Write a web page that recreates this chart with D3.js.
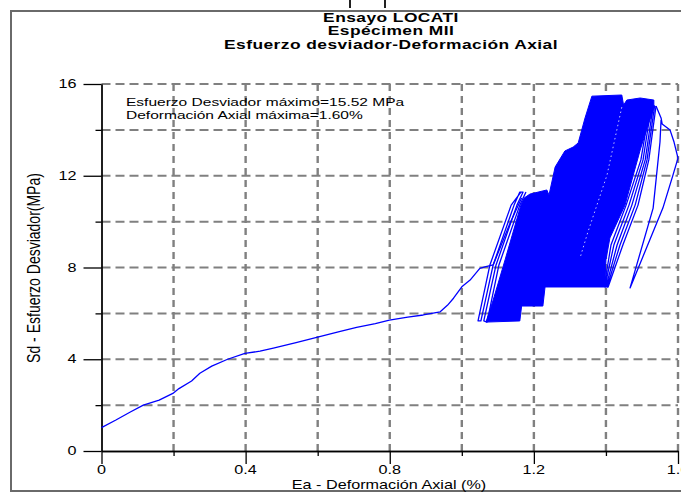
<!DOCTYPE html>
<html>
<head>
<meta charset="utf-8">
<script src="https://cdn.jsdelivr.net/npm/d3@7"></script>
<style>
  body { margin: 0; background: #fff; }
  svg { display: block; font-family: "Liberation Sans", Arial, sans-serif; }
</style>
</head>
<body>
<svg id="chart" width="681" height="493"></svg>
<script>
// ---- chart text ----
const titleLines = ["Ensayo LOCATI", "Espécimen MII", "Esfuerzo desviador-Deformación Axial"];
const xAxisTitle = "Ea - Deformación Axial (%)";
const yAxisTitle = "Sd - Esfuerzo Desviador(MPa)";

// ---- ticks ----
const xMajorTicks = [0, 0.4, 0.8, 1.2, 1.6];
const xTickLabels = ["0", "0.4", "0.8", "1.2", "1.6"];
const xMinorTicks = [0.2, 0.6, 1.0, 1.4];
const yMajorTicks = [0, 4, 8, 12, 16];
const yTickLabels = ["0", "4", "8", "12", "16"];
const yMinorTicks = [2, 6, 10, 14];
const xGrid = [0.2, 0.4, 0.6, 0.8, 1.0, 1.2, 1.4, 1.6];
const yGrid = [2, 4, 6, 8, 10, 12, 14, 16];

// ---- summary values ----
const maxStress = 15.52;   // MPa
const maxStrain = 1.60;    // %

// ---- test record: [axial strain %, deviator stress MPa] ----
// monotonic loading up to the first load peak
const monotonic = [
  [0.000, 1.02], [0.040, 1.35], [0.080, 1.70], [0.116, 2.00], [0.160, 2.22],
  [0.198, 2.51], [0.215, 2.72], [0.250, 3.05], [0.273, 3.39], [0.306, 3.70],
  [0.350, 4.00], [0.398, 4.26], [0.440, 4.35], [0.477, 4.48], [0.540, 4.72],
  [0.600, 4.96], [0.660, 5.20], [0.708, 5.39], [0.760, 5.55], [0.799, 5.71],
  [0.850, 5.84], [0.893, 5.93], [0.940, 6.07], [0.960, 6.35], [0.977, 6.66],
  [1.000, 7.16], [1.023, 7.45], [1.050, 7.96], [1.064, 8.03], [1.087, 8.11],
  [1.110, 9.00], [1.134, 9.94], [1.166, 11.03]
];

// first load cycles (5.6 - 11.3 MPa), outermost ones
const firstCycles = [
  [1.164, 11.29], [1.137, 10.72], [1.078, 8.11], [1.045, 5.67],
  [1.053, 5.67], [1.087, 8.11], [1.145, 10.72], [1.161, 11.29],
  [1.170, 11.29], [1.153, 10.72], [1.095, 8.11], [1.061, 5.67],
  [1.070, 5.62], [1.103, 8.11], [1.161, 10.72], [1.178, 11.29]
];

// outline of the densely packed cyclic loops
const cyclicEnvelope = [
  [1.067, 5.62], [1.161, 5.67], [1.166, 6.32], [1.225, 6.32], [1.231, 7.15],
  [1.397, 7.15], [1.400, 8.33], [1.411, 9.29], [1.453, 10.72], [1.472, 11.81],
  [1.495, 13.12], [1.517, 14.21], [1.533, 14.95], [1.533, 15.30], [1.495, 15.39],
  [1.458, 15.30], [1.449, 15.08], [1.444, 15.52], [1.361, 15.47], [1.342, 14.52],
  [1.323, 13.43], [1.309, 13.25], [1.286, 13.08], [1.259, 12.38], [1.242, 11.16],
  [1.236, 11.38], [1.189, 11.20], [1.173, 11.03], [1.164, 10.72], [1.120, 8.33],
  [1.087, 6.58]
];

// thin opening between the two groups of loops
const cycleGap = [[1.444, 14.99], [1.403, 12.03], [1.350, 9.55], [1.328, 8.41]];

// last cycles of the 7.1 - 15.0 MPa stage
const lastCycles = [
  [1.395, 7.15], [1.414, 8.98], [1.456, 10.72], [1.497, 12.69], [1.522, 15.04],
  [1.526, 15.04], [1.503, 12.69], [1.464, 10.72], [1.422, 8.98], [1.397, 7.15],
  [1.400, 7.15], [1.431, 8.98], [1.472, 10.72], [1.509, 12.69], [1.531, 15.04],
  [1.535, 15.04], [1.514, 12.69], [1.481, 10.72], [1.439, 8.98], [1.403, 7.15],
  [1.406, 7.15], [1.447, 8.98], [1.489, 10.72], [1.519, 12.69], [1.539, 15.04]
];

// final loop, reaching the maximum axial strain
const finalLoop = [
  [1.539, 15.04], [1.553, 14.52], [1.556, 14.26], [1.578, 13.99], [1.589, 13.47],
  [1.600, 12.77], [1.586, 12.03], [1.558, 10.59], [1.467, 7.11], [1.531, 10.59],
  [1.550, 13.47], [1.553, 14.43]
];

// ---- layout ----
const svg = d3.select("#chart");
const x = d3.scaleLinear().domain([0, 1.6]).range([101.5, 678]);
const y = d3.scaleLinear().domain([0, 16]).range([451, 84]);
const wide = 1.35;   // horizontal stretch of all lettering

// outer frame
svg.append("rect")
  .attr("x", 11).attr("y", 11).attr("width", 720).attr("height", 480)
  .attr("fill", "none").attr("stroke", "#6a6a6a").attr("stroke-width", 2);

// small marks above the frame
svg.selectAll("line.mark").data([350, 385]).join("line")
  .attr("class", "mark")
  .attr("x1", d => d).attr("x2", d => d).attr("y1", 0).attr("y2", 8)
  .attr("stroke", "#222").attr("stroke-width", 2);

// titles
svg.selectAll("text.title").data(titleLines).join("text")
  .attr("class", "title")
  .attr("transform", (d, i) => `translate(391,${21.5 + i * 13.5}) scale(1.45,1)`)
  .attr("text-anchor", "middle")
  .attr("font-size", 12).attr("font-weight", "bold")
  .attr("letter-spacing", 0.3)
  .attr("fill", "#000")
  .text(d => d);

// grid
const grid = svg.append("g");
grid.selectAll("line.vg").data(xGrid).join("line")
  .attr("class", "vg")
  .attr("x1", d => x(d)).attr("x2", d => x(d))
  .attr("y1", y(16)).attr("y2", y(0))
  .attr("stroke", "#808080").attr("stroke-width", 2.4)
  .attr("stroke-dasharray", "7,5");
grid.selectAll("line.hg").data(yGrid).join("line")
  .attr("class", "hg")
  .attr("x1", x(0)).attr("x2", x(1.6))
  .attr("y1", d => y(d)).attr("y2", d => y(d))
  .attr("stroke", "#808080").attr("stroke-width", 2)
  .attr("stroke-dasharray", "9,5");

// axes (tick marks)
function styleAxis(g) {
  g.selectAll("path, line").attr("stroke", "#000").attr("stroke-width", 1.3);
}
svg.append("g").attr("transform", `translate(${x(0)},0)`)
  .call(d3.axisLeft(y).tickValues(yMajorTicks).tickSize(18).tickFormat("").tickSizeOuter(0))
  .call(styleAxis);
svg.append("g").attr("transform", `translate(${x(0)},0)`)
  .call(d3.axisLeft(y).tickValues(yMinorTicks).tickSize(6).tickFormat("").tickSizeOuter(0))
  .call(styleAxis);
svg.append("g").attr("transform", `translate(0,${y(0)})`)
  .call(d3.axisBottom(x).tickValues(xMajorTicks).tickSize(13).tickFormat("").tickSizeOuter(0))
  .call(styleAxis);
svg.append("g").attr("transform", `translate(0,${y(0)})`)
  .call(d3.axisBottom(x).tickValues(xMinorTicks).tickSize(5).tickFormat("").tickSizeOuter(0))
  .call(styleAxis);

// tick labels
svg.selectAll("text.ylab").data(yMajorTicks).join("text")
  .attr("class", "ylab")
  .attr("transform", d => `translate(${x(0) - 25},${y(d) + 4}) scale(${wide},1)`)
  .attr("text-anchor", "end").attr("font-size", 12).attr("fill", "#000")
  .text((d, i) => yTickLabels[i]);
svg.selectAll("text.xlab").data(xMajorTicks).join("text")
  .attr("class", "xlab")
  .attr("transform", d => `translate(${x(d)},${y(0) + 22.5}) scale(${wide},1)`)
  .attr("text-anchor", "middle").attr("font-size", 12).attr("fill", "#000")
  .text((d, i) => xTickLabels[i]);

// axis titles
svg.append("text")
  .attr("transform", `translate(389,488.5) scale(${wide},1)`)
  .attr("text-anchor", "middle").attr("font-size", 12).attr("fill", "#000")
  .text(xAxisTitle);
svg.append("text")
  .attr("transform", `translate(39.5,268) scale(${wide},1) rotate(-90)`)
  .attr("text-anchor", "middle").attr("font-size", 14).attr("fill", "#000")
  .text(yAxisTitle);

// summary annotation
const notes = [
  `Esfuerzo Desviador máximo=${maxStress.toFixed(2)} MPa`,
  `Deformación Axial máxima=${maxStrain.toFixed(2)}%`
];
svg.selectAll("text.note").data(notes).join("text")
  .attr("class", "note")
  .attr("transform", (d, i) => `translate(126,${105.5 + i * 13.5}) scale(${wide},1)`)
  .attr("font-size", 11.5).attr("fill", "#000")
  .text(d => d);

// stress-strain record
const line = d3.line().x(d => x(d[0])).y(d => y(d[1]));
const blue = "#0000ff";
svg.append("path").datum(cyclicEnvelope)
  .attr("d", d => line(d) + "Z")
  .attr("fill", blue).attr("stroke", blue).attr("stroke-width", 1);
svg.append("path").datum(cycleGap)
  .attr("d", line)
  .attr("fill", "none").attr("stroke", "#fff").attr("stroke-width", 0.9)
  .attr("stroke-dasharray", "1.5,3").attr("opacity", 0.85);
[monotonic, firstCycles, lastCycles, finalLoop].forEach(series => {
  svg.append("path").datum(series)
    .attr("d", line)
    .attr("fill", "none").attr("stroke", blue).attr("stroke-width", 1.3)
    .attr("stroke-linejoin", "round");
});
</script>
</body>
</html>
